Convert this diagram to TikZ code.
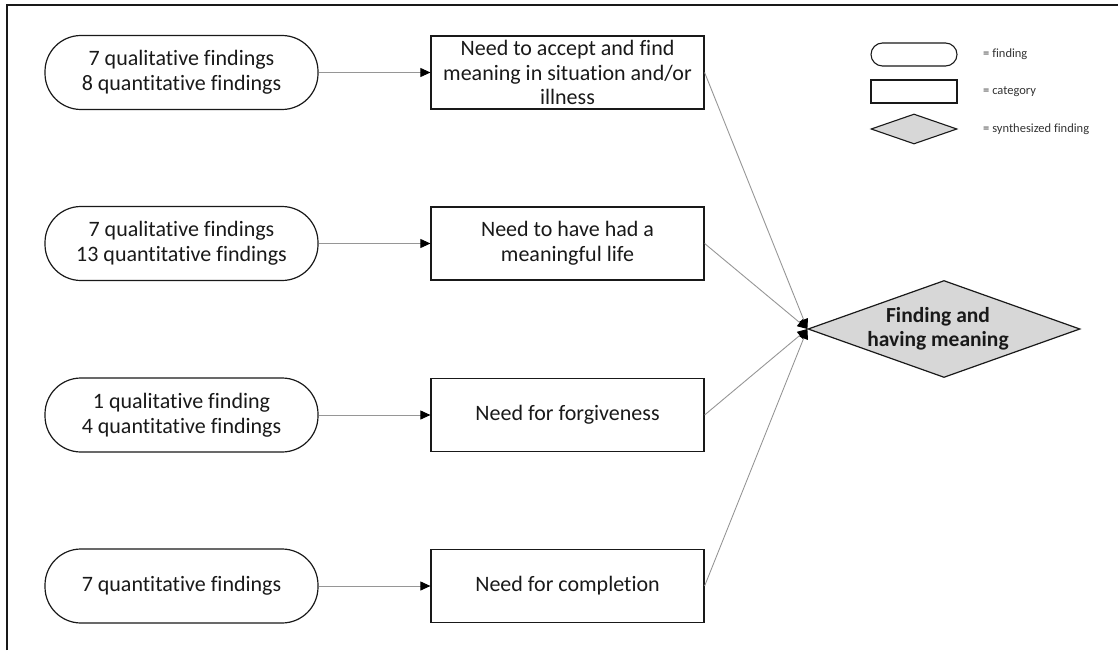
\documentclass[tikz,border=0pt]{standalone}
\usepackage{fontspec}
\setmainfont[RawFeature={-liga;-dlig}]{Carlito}
\usetikzlibrary{shapes.geometric,arrows.meta}
\definecolor{linegray}{RGB}{150,150,150}
\definecolor{diafill}{RGB}{215,215,215}
\definecolor{inkc}{RGB}{25,25,25}
\tikzset{
  mainfont/.style={font=\fontsize{22}{24.5}\selectfont, text=inkc},
  pill/.style={draw=inkc, line width=1.2pt, rounded corners=36pt, minimum width=273pt, minimum height=74pt, inner sep=0pt, align=center, mainfont},
  catbox/.style={draw=inkc, line width=1.2pt, minimum width=273pt, minimum height=73pt, inner sep=0pt, align=center, mainfont},
  synth/.style={diamond, draw=inkc, line width=1.2pt, fill=diafill, minimum width=272pt, minimum height=97pt, inner sep=0pt},
  conn/.style={draw=linegray, line width=0.9pt, -{Triangle[length=10pt,width=9pt,color=black]}},
  legpill/.style={draw=inkc, line width=1.1pt, rounded corners=11.5pt, minimum width=86pt, minimum height=23pt, inner sep=0pt},
  legbox/.style={draw=inkc, line width=1.1pt, minimum width=86pt, minimum height=23pt, inner sep=0pt},
  legdia/.style={diamond, draw=inkc, line width=1.1pt, fill=diafill, minimum width=86pt, minimum height=30pt, inner sep=0pt},
  legtext/.style={anchor=west, inner sep=0pt, font=\fontsize{12.5}{14}\selectfont, text=black!80}
}
\begin{document}
\begin{tikzpicture}[x=1pt,y=-1pt]
\useasboundingbox (0,0) rectangle (1118,650);
\coordinate (frameBL) at (7,650);
\coordinate (frameTL) at (7,5);
\coordinate (frameTR) at (1118,5);
\draw[line width=1.3pt, draw=inkc] (frameBL) -- (frameTL) -- (frameTR);

\node[pill] (f1) at (181.5,72.5) {7 qualitative findings\\8 quantitative findings};
\node[pill] (f2) at (181.5,243.5) {7 qualitative findings\\13 quantitative findings};
\node[pill] (f3) at (181.5,415) {1 qualitative finding\\4 quantitative findings};
\node[pill] (f4) at (181.5,586) {7 quantitative findings};

\node[catbox] (c1) at (567.5,72.5) {Need to accept and find\\meaning in situation and/or\\illness};
\node[catbox] (c2) at (567.5,243.5) {Need to have had a\\meaningful life};
\node[catbox] (c3) at (567.5,415) {Need for forgiveness};
\node[catbox] (c4) at (567.5,586) {Need for completion};

\node[synth] (s) at (944,329) {};
\node[font=\fontsize{21.5}{24.5}\selectfont\bfseries, text=inkc, align=center, inner sep=0pt] (slabel) at (938,329) {Finding and\\having meaning};

\foreach \i in {1,2,3,4} {
  \draw[conn] (f\i.east) -- (c\i.west);
  \draw[conn] (c\i.east) -- (s.west);
}

\node[legpill] (lp) at (914,54.5) {};
\node[legbox] (lb) at (914,91.5) {};
\node[legdia] (ld) at (914,129) {};
\node[legtext] (lt1) at (983,54.5) {= finding};
\node[legtext] (lt2) at (983,91.5) {= category};
\node[legtext] (lt3) at (983,129) {= synthesized finding};
\end{tikzpicture}
\end{document}
